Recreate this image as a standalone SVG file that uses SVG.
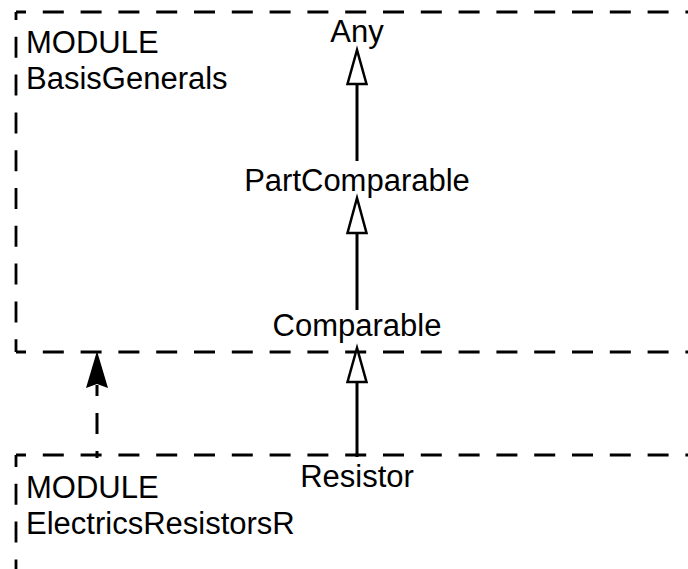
<svg xmlns="http://www.w3.org/2000/svg" width="688" height="569" viewBox="0 0 688 569">
  <style>
    .frame { fill: none; stroke: #000; stroke-width: 2.8; stroke-dasharray: 21 16.8; }
    .label { font-family: "Liberation Sans", Arial, sans-serif; font-size: 31px; fill: #000; }
    .mid { text-anchor: middle; }
    .gen { fill: none; stroke: #000; stroke-width: 3; }
    .head { fill: #fff; stroke: #000; stroke-width: 2.5; stroke-linejoin: miter; }
    .dep { fill: none; stroke: #000; stroke-width: 3; stroke-dasharray: 21 17; }
  </style>

  <!-- module BasisGenerals -->
  <g id="module-basisgenerals">
    <line class="frame" x1="16" y1="12" x2="700" y2="12" stroke-dashoffset="11"/>
    <line class="frame" x1="16" y1="12" x2="16" y2="352" stroke-dashoffset="13"/>
    <line class="frame" x1="16" y1="352" x2="700" y2="352" stroke-dashoffset="11"/>
    <text class="label" x="26" y="53">MODULE</text>
    <text class="label" x="26" y="89">BasisGenerals</text>
  </g>

  <!-- module ElectricsResistorsR -->
  <g id="module-electricsresistorsr">
    <line class="frame" x1="16" y1="455" x2="700" y2="455" stroke-dashoffset="11"/>
    <line class="frame" x1="16" y1="455" x2="16" y2="580" stroke-dashoffset="9"/>
    <text class="label" x="26" y="498">MODULE</text>
    <text class="label" x="26" y="534">ElectricsResistorsR</text>
  </g>

  <!-- classes -->
  <g id="class-any">
    <text class="label mid" x="357" y="42">Any</text>
  </g>
  <g id="class-partcomparable">
    <text class="label mid" x="357" y="191">PartComparable</text>
  </g>
  <g id="class-comparable">
    <text class="label mid" x="357" y="336">Comparable</text>
  </g>
  <g id="class-resistor">
    <text class="label mid" x="357" y="487">Resistor</text>
  </g>

  <!-- connectors -->
  <g id="connectors">
    <!-- PartComparable -> Any -->
    <line class="gen" x1="357" y1="84" x2="357" y2="161"/>
    <polygon class="head" points="357,50 347.5,84 366.5,84"/>
    <!-- Comparable -> PartComparable -->
    <line class="gen" x1="357" y1="233" x2="357" y2="310"/>
    <polygon class="head" points="357,198 347.5,233 366.5,233"/>
    <!-- Resistor -> Comparable -->
    <line class="gen" x1="357" y1="382" x2="357" y2="457"/>
    <polygon class="head" points="357,348 347.5,382 366.5,382"/>
    <!-- ElectricsResistorsR imports BasisGenerals -->
    <line class="dep" x1="97" y1="385" x2="97" y2="458" stroke-dashoffset="10"/>
    <polygon fill="#000" points="97,351 108,388 97,384 86,388"/>
  </g>
</svg>
